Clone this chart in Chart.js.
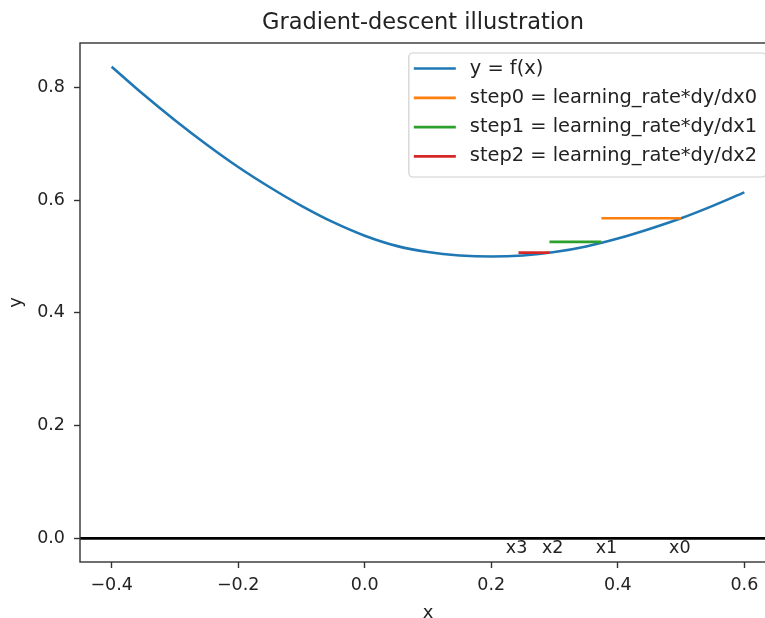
<!DOCTYPE html>
<html>
<head>
<meta charset="utf-8">
<title>Gradient-descent illustration</title>
<script src="https://cdn.jsdelivr.net/npm/chart.js@4.4.1/dist/chart.umd.min.js"></script>
<style>
  html, body { margin: 0; padding: 0; background: #fff; overflow: hidden; }
  #wrap { width: 800px; height: 618px; }
</style>
</head>
<body>
<div id="wrap"><canvas id="chart-gd" width="800" height="618"></canvas></div>
<script>
// y = f(x)
const curveX = [-0.40, -0.35, -0.30, -0.25, -0.20, -0.15, -0.10, -0.05, 0.00, 0.05, 0.10,
                0.15, 0.20, 0.25, 0.30, 0.35, 0.40, 0.45, 0.50, 0.55, 0.60];
const curveY = [0.837, 0.788, 0.742, 0.699, 0.659, 0.623, 0.590, 0.561, 0.537, 0.519, 0.508,
                0.502, 0.500, 0.502, 0.508, 0.518, 0.532, 0.549, 0.568, 0.590, 0.614];

// iterates x0..x3 and the height of each step line
const iterX = [0.500, 0.374, 0.292, 0.243];
const stepY = [0.568, 0.526, 0.507];
const stepNames = ['step0 = learning_rate*dy/dx0', 'step1 = learning_rate*dy/dx1', 'step2 = learning_rate*dy/dx2'];

// the x0..x3 text under the zero line
const iterLabels = ['x0', 'x1', 'x2', 'x3'];
const iterLabelX = [0.498, 0.382, 0.297, 0.240];
const iterLabelY = -0.018;

const xTicks = [-0.4, -0.2, 0.0, 0.2, 0.4, 0.6];
const yTicks = [0.0, 0.2, 0.4, 0.6, 0.8];
const xRange = [-0.45, 0.65];
const yRange = [-0.042, 0.879];

const colors = ['#1f77b4', '#ff7f0e', '#2ca02c', '#d62728'];
const FONT = 'DejaVu Sans';
const ink = '#222';

Chart.defaults.font.family = FONT;
Chart.defaults.color = ink;

const fmt = (v) => (v < 0 ? '\u2212' : '') + Math.abs(v).toFixed(1);

const datasets = [{
    label: 'y = f(x)',
    data: curveX.map((x, i) => ({ x, y: curveY[i] })),
    borderColor: colors[0],
    borderWidth: 2.6,
    pointRadius: 0,
    cubicInterpolationMode: 'monotone',
    order: 5
}];
stepY.forEach((y, i) => {
    datasets.push({
        label: stepNames[i],
        data: [{ x: iterX[i + 1], y }, { x: iterX[i], y }],
        borderColor: colors[i + 1],
        borderWidth: 2.7,
        pointRadius: 0,
        order: 3 - i
    });
});

const extras = {
    id: 'extras',
    beforeDatasetsDraw(chart) {
        const { ctx, chartArea: a, scales: { y } } = chart;
        // horizontal line at y = 0
        ctx.save();
        ctx.strokeStyle = '#000';
        ctx.lineWidth = 2.8;
        const y0 = y.getPixelForValue(0);
        ctx.beginPath();
        ctx.moveTo(a.left, y0);
        ctx.lineTo(a.right, y0);
        ctx.stroke();
        ctx.restore();
    },
    afterDraw(chart) {
        const { ctx, chartArea: a, scales: { x, y } } = chart;
        ctx.save();

        // frame
        ctx.strokeStyle = '#333';
        ctx.lineWidth = 1.4;
        ctx.strokeRect(a.left, a.top, a.right - a.left, a.bottom - a.top);

        // title
        ctx.fillStyle = ink;
        ctx.font = `22.5px "${FONT}"`;
        ctx.textAlign = 'center';
        ctx.textBaseline = 'alphabetic';
        ctx.fillText('Gradient-descent illustration', (a.left + a.right) / 2 - 5, 29);

        // x0..x3 labels
        ctx.font = `17.5px "${FONT}"`;
        ctx.textBaseline = 'middle';
        iterLabels.forEach((t, i) => {
            ctx.fillText(t, x.getPixelForValue(iterLabelX[i]), y.getPixelForValue(iterLabelY));
        });

        // legend, upper right
        ctx.font = `19.4px "${FONT}"`;
        const ds = chart.data.datasets;
        const tw = Math.max(...ds.map(d => ctx.measureText(d.label).width));
        const w = 5 + 42 + 14 + tw + 9;
        const h = 124;
        const right = a.right - 10;
        const left = right - w;
        const top = a.top + 10;
        ctx.beginPath();
        ctx.roundRect(left, top, w, h, 4);
        ctx.fillStyle = 'rgba(255,255,255,0.8)';
        ctx.fill();
        ctx.strokeStyle = '#d0d0d0';
        ctx.lineWidth = 1.2;
        ctx.stroke();
        ds.forEach((d, i) => {
            const ry = top + 15.5 + i * 29.3;
            ctx.strokeStyle = d.borderColor;
            ctx.lineWidth = d.borderWidth;
            ctx.beginPath();
            ctx.moveTo(left + 5, ry);
            ctx.lineTo(left + 47, ry);
            ctx.stroke();
            ctx.fillStyle = ink;
            ctx.textAlign = 'left';
            ctx.textBaseline = 'middle';
            ctx.fillText(d.label, left + 61, ry);
        });
        ctx.restore();
    }
};

const tickFont = { size: 17.5, family: FONT };
const gridOpts = { display: true, drawOnChartArea: false, drawTicks: true, tickLength: 6, tickWidth: 1.4, tickColor: '#333' };

new Chart(document.getElementById('chart-gd'), {
    type: 'line',
    data: { datasets },
    options: {
        responsive: false,
        animation: false,
        events: [],
        layout: { padding: { top: 43, left: 0, right: 24, bottom: 0 } },
        plugins: { legend: { display: false }, title: { display: false }, tooltip: { enabled: false } },
        scales: {
            x: {
                type: 'linear',
                min: xRange[0],
                max: xRange[1],
                border: { display: false },
                grid: gridOpts,
                ticks: { font: tickFont, color: ink, padding: 7, maxRotation: 0, callback: fmt },
                afterBuildTicks: (s) => { s.ticks = xTicks.map(v => ({ value: v })); },
                afterFit: (s) => { s.height = 56; },
                title: { display: true, text: 'x', color: ink, font: { size: 18, family: FONT, lineHeight: 0.5 }, padding: 0 }
            },
            y: {
                type: 'linear',
                min: yRange[0],
                max: yRange[1],
                border: { display: false },
                grid: gridOpts,
                ticks: { font: tickFont, color: ink, padding: 9, callback: fmt },
                afterBuildTicks: (s) => { s.ticks = yTicks.map(v => ({ value: v })); },
                afterFit: (s) => { s.width = 80; },
                title: { display: true, text: 'y', color: ink, font: { size: 18, family: FONT }, padding: { top: 6, bottom: 0 } }
            }
        }
    },
    plugins: [extras]
});
</script>
</body>
</html>
